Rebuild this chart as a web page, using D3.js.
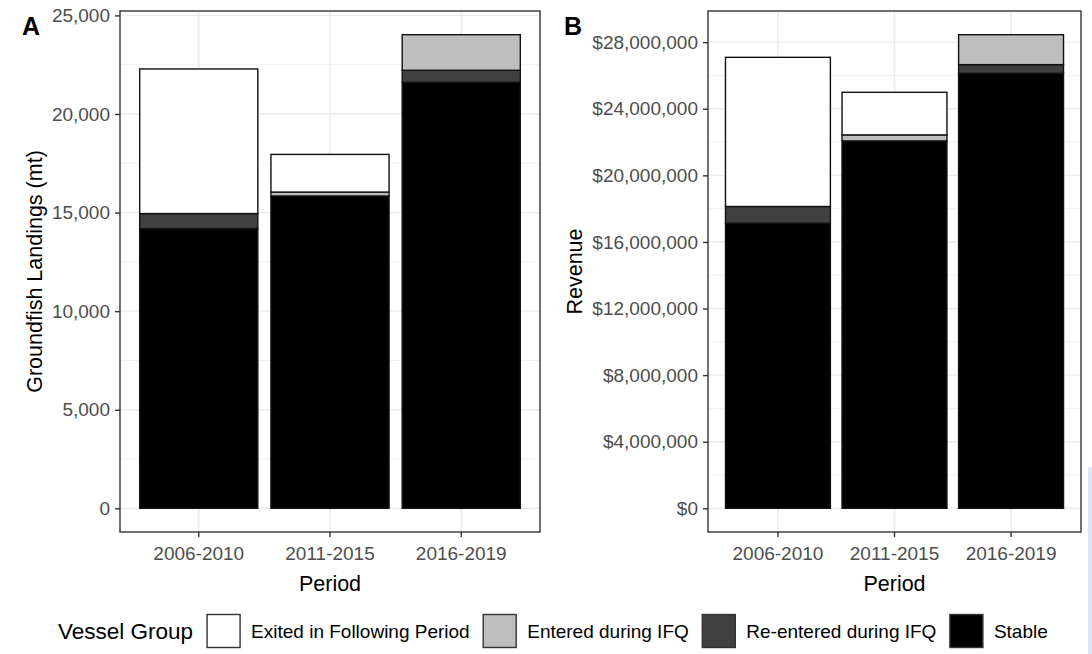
<!DOCTYPE html>
<html>
<head>
<meta charset="utf-8">
<script src="https://cdn.jsdelivr.net/npm/d3@7"></script>
<style>
    body{margin:0;background:#fff;}
    svg{display:block;font-family:"Liberation Sans",Arial,sans-serif;}
</style>
</head>
<body>
<svg id="chart" width="1092" height="654"></svg>
<script>
//数据
var periods=["2006-2010","2011-2015","2016-2019"];
var groups=["Exited in Following Period","Entered during IFQ","Re-entered during IFQ","Stable"];
//A: landings (mt)
var landingsStable=[14185,15840,21610];
var landingsReentered=[765,0,607];
var landingsEntered=[0,200,1806];
var landingsExited=[7335,1910,0];
//B: revenue ($)
var revenueStable=[17120000,22070000,26130000];
var revenueReentered=[1010000,0,520000];
var revenueEntered=[0,360000,1800000];
var revenueExited=[8960000,2560000,0];

var groupColor={
    "Exited in Following Period":"#ffffff",
    "Entered during IFQ":"#bebebe",
    "Re-entered during IFQ":"#404040",
    "Stable":"#000000"
};
var stackOrder=["Stable","Re-entered during IFQ","Entered during IFQ","Exited in Following Period"];

var svg=d3.select("#chart");
var top0=11,bottom0=532;

function buildRows(stable,reentered,entered,exited){
    return periods.map(function(p,i){
        return {
            period:p,
            "Stable":stable[i],
            "Re-entered during IFQ":reentered[i],
            "Entered during IFQ":entered[i],
            "Exited in Following Period":exited[i]
        };
    });
}

function drawPanel(cfg){
    var rows=buildRows(cfg.stable,cfg.reentered,cfg.entered,cfg.exited);
    var series=d3.stack().keys(stackOrder)(rows);
    var maxVal=d3.max(rows,function(r){
        return d3.sum(stackOrder,function(k){return r[k];});
    });
    var x=d3.scaleBand().domain(periods).range([cfg.x0,cfg.x1])
        .paddingInner(0.1).paddingOuter(0.15);
    var y=d3.scaleLinear().domain([-0.05*maxVal,1.05*maxVal]).range([bottom0,top0]);
    var g=svg.append("g");

    //网格线
    var minor=cfg.ticks.slice(0,-1).map(function(t,i){return (t+cfg.ticks[i+1])/2;});
    minor.push(cfg.ticks[cfg.ticks.length-1]+(cfg.ticks[1]-cfg.ticks[0])/2);
    minor=minor.filter(function(t){return y(t)>top0;});
    g.selectAll(".minor").data(minor).enter().append("line")
        .attr("x1",cfg.x0).attr("x2",cfg.x1)
        .attr("y1",function(d){return y(d);}).attr("y2",function(d){return y(d);})
        .attr("stroke","#f2f2f2").attr("stroke-width",1);
    g.selectAll(".major").data(cfg.ticks).enter().append("line")
        .attr("x1",cfg.x0).attr("x2",cfg.x1)
        .attr("y1",function(d){return y(d);}).attr("y2",function(d){return y(d);})
        .attr("stroke","#ebebeb").attr("stroke-width",1.4);
    g.selectAll(".vgrid").data(periods).enter().append("line")
        .attr("x1",function(d){return x(d)+x.bandwidth()/2;})
        .attr("x2",function(d){return x(d)+x.bandwidth()/2;})
        .attr("y1",top0).attr("y2",bottom0)
        .attr("stroke","#ebebeb").attr("stroke-width",1.4);

    //堆叠柱
    series.forEach(function(s){
        g.selectAll(null).data(s.filter(function(d){return d[1]-d[0]>0;}))
            .enter().append("rect")
            .attr("x",function(d){return x(d.data.period);})
            .attr("width",x.bandwidth())
            .attr("y",function(d){return y(d[1]);})
            .attr("height",function(d){return y(d[0])-y(d[1]);})
            .attr("fill",groupColor[s.key])
            .attr("stroke","#111")
            .attr("stroke-width",1.4);
    });

    //边框
    g.append("rect").attr("x",cfg.x0).attr("y",top0)
        .attr("width",cfg.x1-cfg.x0).attr("height",bottom0-top0)
        .attr("fill","none").attr("stroke","#333").attr("stroke-width",1.4);

    //坐标轴
    var yAxis=g.append("g").attr("transform","translate("+cfg.x0+",0)")
        .call(d3.axisLeft(y).tickValues(cfg.ticks).tickFormat(cfg.fmt).tickSize(5).tickPadding(5));
    var xAxis=g.append("g").attr("transform","translate(0,"+bottom0+")")
        .call(d3.axisBottom(x).tickSize(5).tickPadding(6));
    [yAxis,xAxis].forEach(function(a){
        a.select(".domain").remove();
        a.selectAll(".tick line").attr("stroke","#333").attr("stroke-width",1.4);
        a.selectAll(".tick text").attr("fill","#4d4d4d")
            .style("font-size","19px").style("font-family","Liberation Sans, Arial, sans-serif");
    });
    xAxis.selectAll(".tick text").attr("dy","0.9em");

    //标题
    svg.append("text").attr("x",(cfg.x0+cfg.x1)/2).attr("y",591)
        .attr("text-anchor","middle").style("font-size","21.5px").attr("fill","#000")
        .text("Period");
    svg.append("text")
        .attr("transform","translate("+cfg.titleX+","+((top0+bottom0)/2)+") rotate(-90)")
        .attr("text-anchor","middle").attr("dominant-baseline","central")
        .style("font-size","21.5px").attr("fill","#000")
        .text(cfg.title);
    svg.append("text").attr("x",cfg.tagX).attr("y",35)
        .style("font-size","25px").style("font-weight","bold").attr("fill","#000")
        .text(cfg.tag);
}

drawPanel({
    x0:120,x1:540,
    stable:landingsStable,reentered:landingsReentered,entered:landingsEntered,exited:landingsExited,
    ticks:d3.range(0,25001,5000),
    fmt:d3.format(","),
    title:"Groundfish Landings (mt)",titleX:35,
    tag:"A",tagX:22
});
drawPanel({
    x0:708,x1:1081,
    stable:revenueStable,reentered:revenueReentered,entered:revenueEntered,exited:revenueExited,
    ticks:d3.range(0,28000001,4000000),
    fmt:function(d){return "$"+d3.format(",")(d);},
    title:"Revenue",titleX:575,
    tag:"B",tagX:564
});

//图例
var legend=svg.append("g");
var ly=631,cx=58;
var lt=legend.append("text").attr("x",cx).attr("y",ly)
    .attr("dominant-baseline","central").style("font-size","22.5px").attr("fill","#000")
    .text("Vessel Group");
cx+=lt.node().getComputedTextLength()+14;
groups.forEach(function(gName){
    legend.append("rect").attr("x",cx).attr("y",ly-16.5)
        .attr("width",33).attr("height",33)
        .attr("fill",groupColor[gName]).attr("stroke","#333").attr("stroke-width",1.4);
    cx+=33+11;
    var t=legend.append("text").attr("x",cx).attr("y",ly)
        .attr("dominant-baseline","central").style("font-size","19px").attr("fill","#000")
        .text(gName);
    cx+=t.node().getComputedTextLength()+13.5;
});

//右侧截图边缘
svg.append("rect").attr("x",1088).attr("y",467).attr("width",4).attr("height",187)
    .attr("fill","#dde8f4");
</script>
</body>
</html>
